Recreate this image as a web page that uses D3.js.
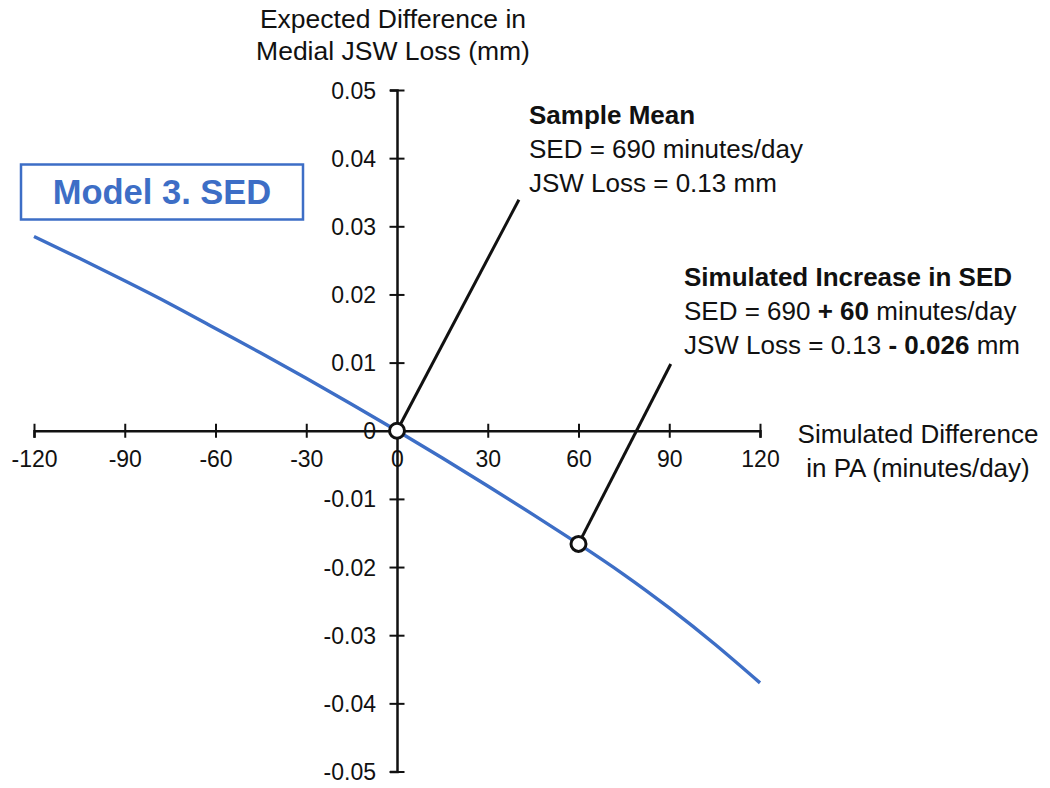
<!DOCTYPE html>
<html>
<head>
<meta charset="utf-8">
<script src="https://cdn.jsdelivr.net/npm/d3@7"></script>
<style>
  html, body { margin: 0; padding: 0; background: #fff; }
  svg { display: block; font-family: Arial, "Liberation Sans", sans-serif; }
</style>
</head>
<body>
<svg id="chart" width="1050" height="788"></svg>
<script>
// ---- data ----
const minutes = [-120, -105, -90, -75, -60, -45, -30, -15, 0, 15, 30, 45, 60, 75, 90, 105, 120];
const jswDiff = [0.0285, 0.0253, 0.0220, 0.0186, 0.0150, 0.0114, 0.0077, 0.0039, 0, -0.0040, -0.0081, -0.0123, -0.0166, -0.0211, -0.0260, -0.0313, -0.0370];
const xTicks = [-120, -90, -60, -30, 0, 30, 60, 90, 120];
const xTickLabels = ["-120", "-90", "-60", "-30", "0", "30", "60", "90", "120"];
const yTicks = [-0.05, -0.04, -0.03, -0.02, -0.01, 0, 0.01, 0.02, 0.03, 0.04, 0.05];
const yTickLabels = ["-0.05", "-0.04", "-0.03", "-0.02", "-0.01", "0", "0.01", "0.02", "0.03", "0.04", "0.05"];
const highlightX = [0, 60];
const highlightY = [0, -0.0166];
const leaderEndX = [40.3, 90.5];
const leaderEndY = [0.0339, 0.0098];

const svg = d3.select("#chart");
const blue = "#3d6ec6";

const x = d3.scaleLinear().domain([-120, 120]).range([34, 760]);
const y = d3.scaleLinear().domain([-0.05, 0.05]).range([771.5, 90]);

// title (y-axis label)
const title = svg.append("text").attr("text-anchor", "middle").attr("font-size", 26.5).attr("fill", "#111");
title.append("tspan").attr("x", 393).attr("y", 28).text("Expected Difference in");
title.append("tspan").attr("x", 393).attr("y", 60).text("Medial JSW Loss (mm)");

// Model box
svg.append("rect").attr("x", 21).attr("y", 164.5).attr("width", 282).attr("height", 55)
  .attr("fill", "#fff").attr("stroke", blue).attr("stroke-width", 2.5);
svg.append("text").attr("x", 162).attr("y", 204).attr("text-anchor", "middle")
  .attr("font-size", 34.5).attr("font-weight", "bold").attr("fill", blue).text("Model 3. SED");

// X axis
const xAxis = svg.append("g").attr("transform", `translate(0,${y(0)})`)
  .call(d3.axisBottom(x).tickValues(xTicks).tickSizeOuter(0).tickSize(7).tickFormat((d, i) => xTickLabels[i]));
xAxis.select(".domain").attr("stroke", "#111").attr("stroke-width", 2.5);
xAxis.selectAll(".tick line").attr("y1", -7).attr("y2", 7).attr("stroke", "#111").attr("stroke-width", 2);
xAxis.selectAll(".tick text").attr("y", 36).attr("dy", 0).attr("font-size", 23).attr("fill", "#111")
  .attr("font-family", null);

// Y axis
const yAxis = svg.append("g").attr("transform", `translate(${x(0)},0)`)
  .call(d3.axisLeft(y).tickValues(yTicks).tickSizeOuter(0).tickSize(7).tickFormat((d, i) => yTickLabels[i]));
yAxis.select(".domain").attr("stroke", "#111").attr("stroke-width", 2.5);
yAxis.selectAll(".tick line").attr("x1", -7.5).attr("x2", 7.5).attr("stroke", "#111").attr("stroke-width", 2);
yAxis.selectAll(".tick text").attr("x", -21).attr("dy", "0.35em").attr("font-size", 23).attr("fill", "#111")
  .attr("font-family", null);

// X axis label
const xl = svg.append("text").attr("text-anchor", "middle").attr("font-size", 26).attr("fill", "#111");
xl.append("tspan").attr("x", 918).attr("y", 443).text("Simulated Difference");
xl.append("tspan").attr("x", 918).attr("y", 477).text("in PA (minutes/day)");

// curve
const pts = minutes.map((m, i) => [m, jswDiff[i]]);
svg.append("path").datum(pts)
  .attr("fill", "none").attr("stroke", blue).attr("stroke-width", 3.4)
  .attr("d", d3.line().x(d => x(d[0])).y(d => y(d[1])).curve(d3.curveNatural));

// leader lines
highlightX.forEach((hx, i) => {
  svg.append("line")
    .attr("x1", x(hx)).attr("y1", y(highlightY[i]))
    .attr("x2", x(leaderEndX[i])).attr("y2", y(leaderEndY[i]))
    .attr("stroke", "#111").attr("stroke-width", 3);
});

// highlight points
svg.selectAll("circle.hl").data(highlightX).enter().append("circle")
  .attr("class", "hl")
  .attr("cx", d => x(d)).attr("cy", (d, i) => y(highlightY[i]))
  .attr("r", 7.5).attr("fill", "#fff").attr("stroke", "#111").attr("stroke-width", 3);

// annotation 1
const a1 = svg.append("text").attr("font-size", 26).attr("fill", "#111");
a1.append("tspan").attr("x", 529).attr("y", 124).attr("font-weight", "bold").text("Sample Mean");
a1.append("tspan").attr("x", 529).attr("y", 158).text("SED = 690 minutes/day");
a1.append("tspan").attr("x", 529).attr("y", 192).text("JSW Loss = 0.13 mm");

// annotation 2
const a2 = svg.append("text").attr("font-size", 26).attr("fill", "#111");
a2.append("tspan").attr("x", 684).attr("y", 286).attr("font-weight", "bold").text("Simulated Increase in SED");
const l2 = a2.append("tspan").attr("x", 684).attr("y", 320);
l2.append("tspan").text("SED = 690 ");
l2.append("tspan").attr("font-weight", "bold").text("+ 60");
l2.append("tspan").text(" minutes/day");
const l3 = a2.append("tspan").attr("x", 684).attr("y", 354);
l3.append("tspan").text("JSW Loss = 0.13 ");
l3.append("tspan").attr("font-weight", "bold").text("- 0.026");
l3.append("tspan").text(" mm");
</script>
</body>
</html>
